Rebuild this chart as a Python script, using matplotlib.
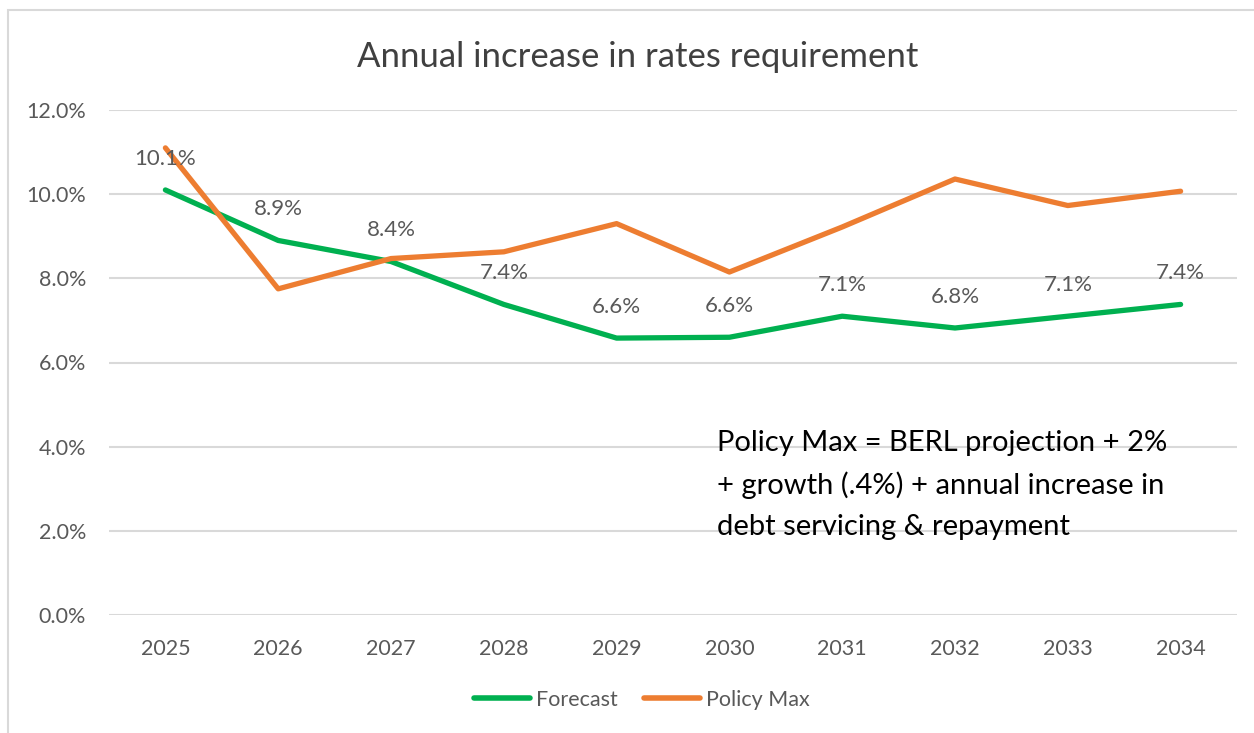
import matplotlib
matplotlib.use("Agg")
import matplotlib.pyplot as plt
from matplotlib.lines import Line2D
from matplotlib.patches import Rectangle

years = ["2025", "2026", "2027", "2028", "2029", "2030", "2031", "2032", "2033", "2034"]
forecast = [10.1, 8.9, 8.4, 7.38, 6.58, 6.6, 7.1, 6.82, 7.1, 7.38]
policy_max = [11.1, 7.75, 8.47, 8.63, 9.3, 8.15, 9.22, 10.36, 9.73, 10.07]
y_ticks = [0, 2, 4, 6, 8, 10, 12]

GREEN = "#00B050"
ORANGE = "#ED7D31"
GRAY = "#595959"
FONT = ["Lato", "DejaVu Sans"]
plt.rcParams["font.family"] = FONT

W, H = 1254, 733
fig = plt.figure(figsize=(W / 100, H / 100), dpi=100)

# outer chart border
fig.patches.append(Rectangle((8 / W, -0.1), 1.2, (733 - 10) / H + 0.1,
                             transform=fig.transFigure, fill=False,
                             edgecolor="#D9D9D9", linewidth=1.5))

ax = fig.add_axes([109 / W, (733 - 615) / H, 1128 / W, 505 / H])
x = list(range(len(years)))
ax.plot(x, forecast, color=GREEN, linewidth=3.8, solid_capstyle="round", zorder=3)
ax.plot(x, policy_max, color=ORANGE, linewidth=3.8, solid_capstyle="round", zorder=3)

for xi, v in zip(x, forecast):
    ax.annotate(f"{v:.1f}%", (xi, v), xytext=(0, 22.5), textcoords="offset points",
                ha="center", va="center", fontsize=16, color=GRAY, zorder=4)

ax.set_xlim(-0.5, len(years) - 0.5)
ax.set_ylim(0, 12)
ax.set_yticks(y_ticks)
ax.set_yticklabels([f"{t:.1f}%" for t in y_ticks])
ax.set_xticks(x)
ax.set_xticklabels(years)
ax.tick_params(axis="both", length=0, labelsize=15.5, labelcolor=GRAY)
ax.tick_params(axis="y", pad=16.5)
ax.tick_params(axis="x", pad=17.5)
ax.grid(axis="y", color="#D9D9D9", linewidth=1.5)
ax.set_axisbelow(True)
for s in ax.spines.values():
    s.set_visible(False)

fig.text(638 / W, 1 - 57 / H, "Annual increase in rates requirement",
         ha="center", va="center", fontsize=25, color="#404040")

fig.text(717 / W, 1 - 485 / H,
         "Policy Max = BERL projection + 2%\n+ growth (.4%) + annual increase in\ndebt servicing & repayment",
         ha="left", va="center", fontsize=21, color="black", linespacing=1.7)

handles = [Line2D([], [], color=GREEN, linewidth=4, solid_capstyle="round"),
           Line2D([], [], color=ORANGE, linewidth=4, solid_capstyle="round")]
fig.legend(handles, ["Forecast", "Policy Max"], loc="center",
           bbox_to_anchor=(642 / W, 1 - 700 / H), ncol=2, frameon=False,
           fontsize=15.5, labelcolor=GRAY, handlelength=2.6, handletextpad=0.25,
           columnspacing=1.25)

fig.savefig("out.png", dpi=100)
